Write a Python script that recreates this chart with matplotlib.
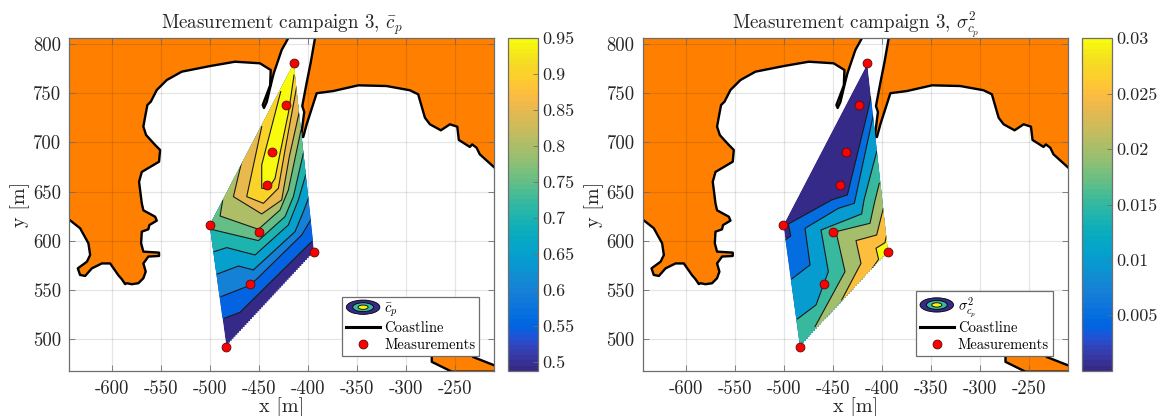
import matplotlib
matplotlib.use('Agg')
import matplotlib.pyplot as plt
import numpy as np
from matplotlib.colors import ListedColormap, Normalize
from matplotlib.cm import ScalarMappable
from matplotlib.lines import Line2D
from matplotlib.patches import Polygon, Ellipse, Patch
from matplotlib.legend_handler import HandlerBase

plt.rcParams['font.family'] = ['cmr10', 'DejaVu Serif']
plt.rcParams['mathtext.fontset'] = 'cm'
plt.rcParams['axes.unicode_minus'] = False
plt.rcParams['axes.formatter.use_mathtext'] = True

# ---------- data ----------
meas_x = [-415, -423.2, -437, -442.5, -450, -459.2, -500.7, -483.7, -394]
meas_y = [780.4, 738, 690.6, 656.7, 609.3, 556.2, 616, 492.5, 588.4]
domain = [(-415, 780), (-394, 588.4), (-483.7, 492.5), (-500.7, 616)]

coast_nw = [(-420.5, 806), (-427.2, 794), (-435.4, 770), (-438.4, 758), (-442.5, 741), (-445.3, 735), (-446.6, 738),
            (-439, 758), (-438.4, 773.6), (-449.4, 780.4), (-474.8, 782), (-500.3, 777.6), (-529.2, 771.9),
            (-544.5, 763.4), (-554.7, 753.3), (-560.8, 741.4), (-564.3, 738), (-566.6, 726), (-568.4, 716),
            (-565.6, 707.5), (-556.4, 697.4), (-551.3, 692.3), (-552.4, 680.4), (-570, 670), (-572.8, 660),
            (-570, 638), (-568.4, 631), (-556.4, 624.5), (-554.7, 620.5), (-562.3, 616), (-563.3, 611.7),
            (-570, 609.3), (-570.7, 597.5), (-568.4, 589), (-552.4, 588), (-552.4, 584.6), (-563.3, 584),
            (-568.4, 577), (-566, 568.7), (-568.4, 562), (-573.5, 556.9), (-580.2, 555.9), (-585.3, 556.9),
            (-587, 556), (-590.4, 561), (-593.9, 565), (-602.3, 577), (-610.8, 577), (-621, 572), (-627.8, 564.3),
            (-633, 565.3), (-635.3, 572), (-626, 578.8), (-622.7, 585.6), (-624.5, 597.5), (-633, 612.8), (-646, 623)]
coast_ne = [(-393.2, 806), (-397.6, 781), (-401.7, 760.7), (-406.2, 737), (-404.2, 730.9), (-407.5, 705.5), (-405.2, 705.5),
            (-401.7, 718.4), (-391.5, 750), (-374.6, 752.2), (-349, 758), (-320.2, 757.3), (-296.4, 753), (-287.9, 748.9),
            (-281, 725.1), (-275.9, 718.4), (-264.7, 712.3), (-255.5, 718.4), (-248, 716), (-246.4, 702.5), (-235.2, 695.4),
            (-232.8, 698), (-228.3, 694.6), (-225, 687.9), (-209, 673.5)]
coast_se = [(-274, 490), (-274, 477), (-253.6, 467), (-209, 467), (-209, 473), (-232, 482), (-232, 490)]

levels_mean = [0.4875, 0.55, 0.6, 0.65, 0.7, 0.75, 0.8, 0.85, 0.9, 0.95]
contours_mean = [
    [(-485.7, 521.3), (-469.7, 527.4), (-396.6, 599.2)],
    [(-489.1, 543.3), (-461.2, 554.1), (-453.7, 560.2), (-406.8, 605.9), (-397.6, 621.2)],
    [(-492.8, 566.3), (-471.4, 574.4), (-456.1, 570.4), (-413.6, 609.3), (-405.1, 629.6), (-399.3, 644.9)],
    [(-496.2, 589), (-483.3, 593.1), (-454.4, 585.6), (-420.4, 616.1), (-410.2, 641.5), (-402.7, 666.9)],
    [(-499.3, 611.7), (-451, 600.2), (-423.8, 624.6), (-415.3, 644.9), (-405.1, 688.9)],
    [(-487.4, 641.5), (-490.1, 625.2), (-451, 611.7), (-428.9, 631.3), (-420.4, 651.7), (-407.5, 712.6)],
    [(-468, 680.5), (-476.5, 644.9), (-447.6, 627.3), (-427.2, 641.5), (-419.4, 685.6), (-409.2, 731.3)],
    [(-447.6, 716), (-462.9, 644.9), (-445.9, 638.1), (-430.6, 653.4), (-423.8, 692.3), (-411.9, 756.7)],
    [(-428.2, 751.6), (-447.6, 677.1), (-447.6, 653.4), (-440.8, 652.7), (-434, 663.5), (-428.9, 688.9), (-420.1, 731.3),
     (-414.6, 768.5)],
]

levels_var = [0.0, 0.005, 0.01, 0.015, 0.02, 0.025, 0.03]
contours_var = [
    [(-411.3, 746.5), (-415, 729.6), (-435.4, 646.6), (-451.4, 641.5), (-495.6, 617.1), (-493.2, 604.9), (-499, 600.9)],
    [(-408.9, 727.9), (-428.3, 638.1), (-444.6, 633), (-478.6, 612.7), (-473.5, 575.5), (-492.2, 561.2)],
    [(-405.5, 690.6), (-418.4, 641.5), (-420.8, 627.3), (-462.3, 611), (-454.8, 568.7), (-467.4, 534.8), (-486.4, 520.6)],
    [(-402.8, 658.5), (-407.9, 638.1), (-412.3, 617.8), (-447, 609.3), (-437.8, 568.7), (-468.4, 512.8)],
    [(-398.7, 633), (-405.5, 605.9), (-426.6, 600.2), (-421.5, 577.1), (-441.2, 539.9)],
    [(-395.3, 605.9), (-397, 598.1), (-406.2, 592.4), (-403.5, 581.2), (-409.9, 572.1)],
]

x_ticks = [-600, -550, -500, -450, -400, -350, -300, -250]
y_ticks = [500, 550, 600, 650, 700, 750, 800]
cb_ticks_mean = [0.5, 0.55, 0.6, 0.65, 0.7, 0.75, 0.8, 0.85, 0.9, 0.95]
cb_labels_mean = ['0.5', '0.55', '0.6', '0.65', '0.7', '0.75', '0.8', '0.85', '0.9', '0.95']
cb_ticks_var = [0.005, 0.01, 0.015, 0.02, 0.025, 0.03]
cb_labels_var = ['0.005', '0.01', '0.015', '0.02', '0.025', '0.03']

titles = [r'Measurement campaign 3, $\bar{c}_p$', r'Measurement campaign 3, $\sigma^2_{c_p}$']
legend_syms = [r'$\bar{c}_p$', r'$\sigma^2_{c_p}$']

parula = ListedColormap([
    [.2081, .1663, .5292], [.2116, .1898, .5777], [.2123, .2138, .6270], [.2081, .2386, .6771], [.1959, .2645, .7279],
    [.1707, .2919, .7792], [.1253, .3242, .8303], [.0591, .3598, .8683], [.0117, .3875, .8820], [.0060, .4086, .8828],
    [.0165, .4266, .8786], [.0329, .4430, .8720], [.0498, .4586, .8641], [.0629, .4737, .8554], [.0723, .4887, .8467],
    [.0779, .5040, .8384], [.0793, .5200, .8312], [.0749, .5375, .8263], [.0641, .5570, .8240], [.0488, .5772, .8228],
    [.0343, .5966, .8199], [.0265, .6137, .8135], [.0239, .6287, .8038], [.0231, .6418, .7913], [.0228, .6535, .7768],
    [.0267, .6642, .7607], [.0384, .6743, .7436], [.0590, .6838, .7254], [.0843, .6928, .7062], [.1133, .7015, .6859],
    [.1453, .7098, .6646], [.1801, .7177, .6424], [.2178, .7250, .6193], [.2586, .7317, .5954], [.3022, .7376, .5712],
    [.3482, .7424, .5473], [.3953, .7459, .5244], [.4420, .7481, .5033], [.4871, .7491, .4840], [.5300, .7491, .4661],
    [.5709, .7485, .4494], [.6099, .7473, .4337], [.6473, .7456, .4188], [.6834, .7435, .4044], [.7184, .7411, .3905],
    [.7525, .7384, .3768], [.7858, .7356, .3633], [.8185, .7327, .3498], [.8507, .7299, .3360], [.8824, .7274, .3217],
    [.9139, .7258, .3063], [.9450, .7261, .2886], [.9739, .7314, .2666], [.9938, .7455, .2403], [.9990, .7653, .2164],
    [.9955, .7861, .1967], [.9880, .8066, .1794], [.9789, .8271, .1633], [.9697, .8481, .1475], [.9626, .8705, .1309],
    [.9589, .8949, .1132], [.9598, .9218, .0948], [.9661, .9514, .0755], [.9763, .9831, .0538]], name='parula')

# ---------- layout (pixels) ----------
W, H = 1159, 416
TOP, BOT = 38.3, 370.7
GREY = '#6e6e6e'
TEXT = '#262626'
ORANGE = '#ff8000'


def axpx(x0, x1):
    return [x0 / W, (H - BOT) / H, (x1 - x0) / W, (BOT - TOP) / H]


def clip_outline():
    """Domain outline; the lower-right edge is stair-stepped by the coarse sampling of the field."""
    (x0, y0), (x1, y1) = domain[2], domain[1]
    n = 48
    pts = [domain[0]]
    sx, sy = np.linspace(x1, x0, n + 1), np.linspace(y1, y0, n + 1)
    for i in range(n):
        pts += [(sx[i], sy[i]), (sx[i + 1], sy[i])]
    pts += [domain[2], domain[3]]
    return pts


class ContourHandler(HandlerBase):
    def create_artists(self, legend, orig, xd, yd, w, h, fs, trans):
        cx, cy = w / 2 - xd, h / 2 - yd
        arts = []
        for f, c in [(1.0, parula(0.0)), (0.62, parula(0.5)), (0.3, parula(0.97))]:
            arts.append(Ellipse((cx, cy), w * f, h * 1.4 * f, fc=c, ec='black', lw=0.6, transform=trans))
        return arts


def draw_panel(ax, cax, levels, lines, norm, high_up, title, sym, ticks, labels):
    # coast
    poly1 = coast_nw + [(-646, 810), (-420.5, 810)]
    poly2 = coast_ne + [(-209, 810), (-393.2, 810)]
    for p in (poly1, poly2, coast_se):
        ax.fill(*zip(*p), color=ORANGE, lw=0, zorder=1)
    for p in (coast_nw, coast_ne, coast_se):
        ax.plot(*zip(*p), color='black', lw=1.7, zorder=2, solid_joinstyle='round')

    # filled contours
    clip = Polygon(clip_outline(), closed=True, transform=ax.transData, fc='none', ec='none')
    ax.add_patch(clip)
    base = ax.fill(*zip(*domain), color=parula(norm(levels[0])), lw=0, zorder=3)[0]
    base.set_clip_path(clip)
    for lev, ln in zip(levels[1:], lines):
        (xs, ys), (xe, ye) = ln[0], ln[-1]
        if high_up:
            path = [(-350, ye), (-350, 830), (-540, 830), (-540, ys)]
        elif xe < -480:
            path = [(-540, ye), (-540, 440), (-340, 440), (-340, ys)]
        else:
            path = [(xe, 440), (-340, 440), (-340, ys)]
        pg = ax.fill(*zip(*(ln + path)), color=parula(norm(lev)), lw=0, zorder=3)[0]
        pg.set_clip_path(clip)
        l2 = ax.plot(*zip(*ln), color='#1a1a1a', lw=0.8, zorder=4)[0]
        l2.set_clip_path(clip)

    # axes cosmetics
    ax.set_xlim(-644, -210.5)
    ax.set_ylim(468, 805.8)
    ax.set_xticks(x_ticks)
    ax.set_xticklabels([str(t) for t in x_ticks])
    ax.set_yticks(y_ticks)
    ax.set_yticklabels([str(t) for t in y_ticks])
    ax.tick_params(direction='in', top=True, right=True, length=4, width=0.6, color=GREY,
                   labelsize=13.5, labelcolor=TEXT)
    ax.tick_params(axis='x', pad=7)
    ax.tick_params(axis='y', pad=6)
    ax.grid(True, color='black', alpha=0.10, lw=0.9, zorder=5)
    ax.set_axisbelow(False)
    for s in ax.spines.values():
        s.set_color(GREY)
        s.set_linewidth(0.9)
    ax.set_xlabel('x [m]', fontsize=14.5, color=TEXT, labelpad=-1)
    ax.set_ylabel('y [m]', fontsize=14.5, color=TEXT, labelpad=2)
    ax.set_title(title, fontsize=13.7, color=TEXT, pad=7)

    # measurements
    ax.plot(meas_x, meas_y, ls='none', marker='o', ms=6.4, mfc='#ff0000', mec='#501010', mew=0.6, zorder=7, clip_on=False)

    # legend
    handles = [Patch(), Line2D([], [], color='black', lw=2.2),
               Line2D([], [], ls='none', marker='o', ms=6.4, mfc='#ff0000', mec='#501010', mew=0.6)]
    leg = ax.legend(handles, [sym, 'Coastline', 'Measurements'], loc='lower right',
                    bbox_to_anchor=((479.3 - 69.3) / 424.7, (370.7 - 356) / 332.4),
                    borderaxespad=0, fontsize=10.5, fancybox=False, framealpha=1, edgecolor=GREY,
                    handler_map={Patch: ContourHandler()}, labelspacing=0.2, handlelength=2.3,
                    handletextpad=0.3, borderpad=0.27)
    leg.get_frame().set_linewidth(0.9)
    leg.set_zorder(10)

    # colourbar
    cb = plt.colorbar(ScalarMappable(norm=norm, cmap=parula), cax=cax)
    cb.set_ticks(ticks)
    cb.set_ticklabels(labels)
    cb.ax.tick_params(direction='in', length=3.5, width=0.6, color=GREY, labelsize=13, labelcolor=TEXT, pad=3)
    cb.outline.set_edgecolor(GREY)
    cb.outline.set_linewidth(0.9)


fig = plt.figure(figsize=(W / 100, H / 100), dpi=100)
ax1 = fig.add_axes(axpx(69.3, 494))
cax1 = fig.add_axes(axpx(508.3, 537.7))
ax2 = fig.add_axes(axpx(643, 1067.7))
cax2 = fig.add_axes(axpx(1082, 1112))

draw_panel(ax1, cax1, levels_mean, contours_mean, Normalize(0.4875, 0.95), True, titles[0], legend_syms[0],
           cb_ticks_mean, cb_labels_mean)
draw_panel(ax2, cax2, levels_var, contours_var, Normalize(0.0, 0.03), False, titles[1], legend_syms[1],
           cb_ticks_var, cb_labels_var)

fig.savefig('out.png', dpi=100)
